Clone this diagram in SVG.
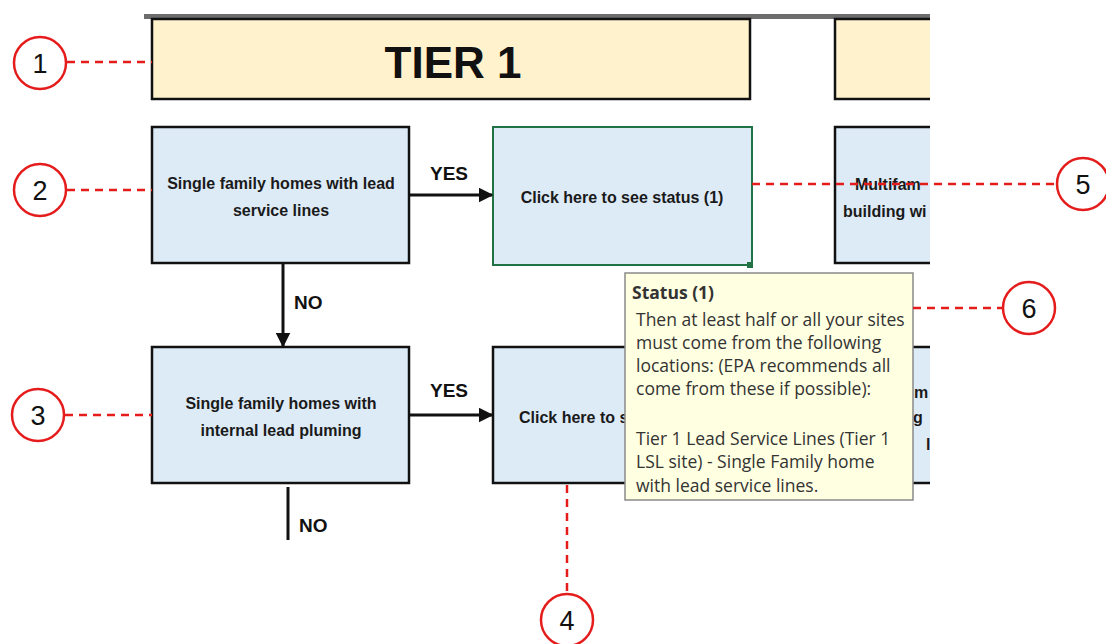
<svg xmlns="http://www.w3.org/2000/svg" width="1106" height="644" viewBox="0 0 1106 644">
<style>
.hdr{fill:#fff2cc;stroke:#111;stroke-width:2.5}
.box{fill:#ddebf7;stroke:#111;stroke-width:2.5}
.gbox{fill:#ddebf7;stroke:#217346;stroke-width:2}
.bt{font-family:"Liberation Sans",Arial,sans-serif;font-weight:bold;font-size:16px;fill:#1a1a1a;text-anchor:middle}
.bs{font-family:"Liberation Sans",Arial,sans-serif;font-weight:bold;font-size:16px;fill:#1a1a1a;text-anchor:start}
.lbl{font-family:"Liberation Sans",Arial,sans-serif;font-weight:bold;font-size:19px;fill:#111}
.num{font-family:"Liberation Sans",Arial,sans-serif;font-size:27px;fill:#111;text-anchor:middle}
.circ{fill:#fff;stroke:#e51c1c;stroke-width:2.5}
.dash{stroke:#e51c1c;stroke-width:2.5;stroke-dasharray:8 6;fill:none}
.conn{stroke:#111;stroke-width:3;fill:none}
.tt{font-family:"Open Sans","Noto Sans",sans-serif;font-size:17.5px;fill:#333}
</style>
<defs>
<marker id="ah" viewBox="0 0 10 10" refX="9" refY="5" markerWidth="5" markerHeight="5" orient="auto" markerUnits="strokeWidth">
<path d="M0,0 L10,5 L0,10 z" fill="#111"/>
</marker>
<clipPath id="clip"><rect x="0" y="0" width="930" height="644"/></clipPath>
</defs>

<rect x="144" y="14" width="786" height="5" fill="#6d6d6d"/>

<g clip-path="url(#clip)">
<g id="tier1">
<rect class="hdr" x="152" y="19" width="598" height="80"/>
<text x="453" y="78" font-family="Liberation Sans,Arial,sans-serif" font-weight="bold" font-size="44" fill="#111" text-anchor="middle">TIER 1</text>
</g>
<g id="tier2hdr">
<rect class="hdr" x="835" y="19" width="200" height="80"/>
</g>

<g id="n2">
<rect class="box" x="152" y="127" width="257" height="136"/>
<text class="bt" x="281" y="189">Single family homes with lead</text>
<text class="bt" x="281" y="216">service lines</text>
</g>
<g id="s1">
<rect class="gbox" x="493" y="127" width="259" height="138"/>
<text class="bt" x="622" y="203">Click here to see status (1)</text>
<rect x="747" y="262" width="6" height="6" fill="#217346"/>
</g>
<g id="m1">
<rect class="box" x="835" y="127" width="200" height="136"/>
<text class="bs" x="855" y="190">Multifam</text>
<text class="bs" x="843" y="217">building wi</text>
</g>

<g id="n3">
<rect class="box" x="152" y="347" width="257" height="136"/>
<text class="bt" x="281" y="409">Single family homes with</text>
<text class="bt" x="281" y="436">internal lead pluming</text>
</g>
<g id="s2">
<rect class="box" x="493" y="347" width="259" height="136"/>
<text class="bs" x="519" y="423">Click here to s</text>
</g>
<g id="m2">
<rect class="box" x="835" y="347" width="200" height="136"/>
<text class="bs" x="914" y="398">m</text>
<text class="bs" x="913" y="423">g</text>
<text class="bs" x="926" y="450">l</text>
</g>
</g>

<g id="connectors">
<line class="conn" x1="409" y1="195" x2="492" y2="195" marker-end="url(#ah)"/>
<line class="conn" x1="409" y1="415" x2="492" y2="415" marker-end="url(#ah)"/>
<line class="conn" x1="283" y1="263" x2="283" y2="346" marker-end="url(#ah)"/>
<line class="conn" x1="288" y1="487" x2="288" y2="540"/>
<text class="lbl" x="430" y="180">YES</text>
<text class="lbl" x="430" y="397">YES</text>
<text class="lbl" x="294" y="309">NO</text>
<text class="lbl" x="299" y="532">NO</text>
</g>

<g id="tooltip">
<rect x="625" y="273" width="288" height="227" fill="#ffffe1" stroke="#8a8a8a" stroke-width="1.5"/>
<text class="tt" x="632" y="299" font-weight="bold">Status (1)</text>
<text class="tt" x="636" y="326">Then at least half or all your sites</text>
<text class="tt" x="636" y="349">must come from the following</text>
<text class="tt" x="636" y="372">locations: (EPA recommends all</text>
<text class="tt" x="636" y="395">come from these if possible):</text>
<text class="tt" x="636" y="445">Tier 1 Lead Service Lines (Tier 1</text>
<text class="tt" x="636" y="468">LSL site) - Single Family home</text>
<text class="tt" x="636" y="492">with lead service lines.</text>
</g>

<g id="callouts">
<line class="dash" x1="67" y1="62" x2="152" y2="62"/>
<line class="dash" x1="67" y1="190" x2="152" y2="190"/>
<line class="dash" x1="65" y1="415" x2="152" y2="415"/>
<line class="dash" x1="567" y1="485" x2="567" y2="594"/>
<line class="dash" x1="752" y1="184" x2="1058" y2="184"/>
<line class="dash" x1="913" y1="308" x2="1003" y2="308"/>
<g id="c1"><circle class="circ" cx="40" cy="63" r="26"/><text class="num" x="40" y="73">1</text></g>
<g id="c2"><circle class="circ" cx="40" cy="190" r="26"/><text class="num" x="40" y="200">2</text></g>
<g id="c3"><circle class="circ" cx="38" cy="415" r="26"/><text class="num" x="38" y="425">3</text></g>
<g id="c4"><circle class="circ" cx="567" cy="620" r="26"/><text class="num" x="567" y="630">4</text></g>
<g id="c5"><circle class="circ" cx="1083" cy="184" r="26"/><text class="num" x="1083" y="194">5</text></g>
<g id="c6"><circle class="circ" cx="1029" cy="308" r="26"/><text class="num" x="1029" y="318">6</text></g>
</g>
</svg>
